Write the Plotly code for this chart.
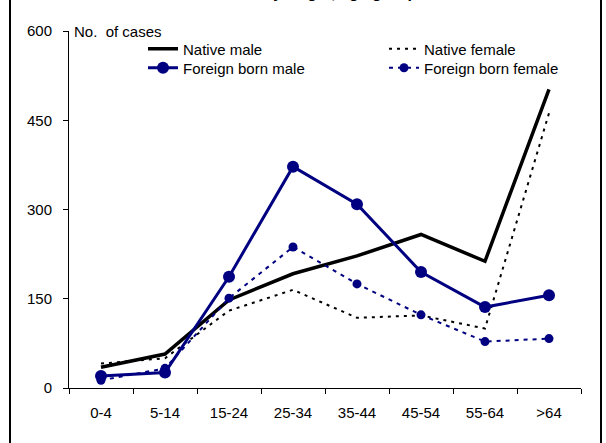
import plotly.graph_objects as go

age_groups = ["0-4", "5-14", "15-24", "25-34", "35-44", "45-54", "55-64", ">64"]
native_male = [35, 57, 148, 192, 222, 258, 213, 502]
native_female = [41, 50, 130, 165, 118, 122, 100, 462]
foreign_male = [20, 26, 187, 372, 309, 195, 136, 156]
foreign_female = [13, 33, 151, 237, 175, 123, 78, 83]
y_ticks = [0, 150, 300, 450, 600]

NAVY = "#000080"
FONT = "Liberation Sans, Arial, sans-serif"

L, R, T, B = 69, 25, 31, 55
W, H = 606, 443
pw, ph = W - L - R, H - T - B

def px(x):
    return (x - L) / pw

def py(y):
    return (H - B - y) / ph

fig = go.Figure()
fig.add_trace(go.Scatter(x=age_groups, y=native_male, name="Native male", mode="lines",
                         line=dict(color="black", width=3.5), legend="legend"))
fig.add_trace(go.Scatter(x=age_groups, y=native_female, name="Native female", mode="lines",
                         line=dict(color="black", width=2, dash="3px,5px"), legend="legend2"))
fig.add_trace(go.Scatter(x=age_groups, y=foreign_male, name="Foreign born male", mode="lines+markers",
                         line=dict(color=NAVY, width=3), marker=dict(size=12, color=NAVY),
                         legend="legend3"))
fig.add_trace(go.Scatter(x=age_groups, y=foreign_female, name="Foreign born female", mode="lines+markers",
                         line=dict(color=NAVY, width=2, dash="4px,5px"), marker=dict(size=9, color=NAVY),
                         legend="legend4"))

legend_common = dict(font=dict(family=FONT, size=15, color="black"), bgcolor="rgba(0,0,0,0)",
                     orientation="v", xanchor="left", yanchor="middle", tracegroupgap=0,
                     itemclick=False, borderwidth=0)

fig.update_layout(
    width=W, height=H,
    margin=dict(l=L, r=R, t=T, b=B, pad=0),
    paper_bgcolor="white", plot_bgcolor="white",
    font=dict(family=FONT, size=15, color="black"),
    showlegend=True,
    legend=dict(x=px(143), y=py(49), **legend_common),
    legend2=dict(x=px(384), y=py(49), **legend_common),
    legend3=dict(x=px(143), y=py(68), **legend_common),
    legend4=dict(x=px(384), y=py(68), **legend_common),
    xaxis=dict(type="category", range=[-0.5, 7.5], showgrid=False, zeroline=False,
               showline=True, linecolor="black", linewidth=1,
               ticks="outside", ticklen=5, tickcolor="black", tickwidth=1,
               tickson="boundaries", ticklabelstandoff=11,
               tickfont=dict(family=FONT, size=15, color="black")),
    yaxis=dict(range=[0, 600], tickvals=y_ticks, showgrid=False, zeroline=False,
               showline=True, linecolor="black", linewidth=1,
               ticks="outside", ticklen=5, tickcolor="black", tickwidth=1,
               ticklabelstandoff=8,
               tickfont=dict(family=FONT, size=15, color="black")),
    annotations=[
        dict(text="No.  of cases", xref="paper", yref="paper", x=0, y=1, xshift=3,
             xanchor="left", yanchor="middle", showarrow=False,
             font=dict(family=FONT, size=15, color="black")),
        dict(text="Cases by origin, age group", xref="paper", yref="paper", x=px(420), y=1,
             xanchor="right", yanchor="bottom", yshift=28, showarrow=False,
             font=dict(family=FONT, size=16, color="black", weight="bold")),
    ],
    shapes=[
        dict(type="line", xref="paper", yref="paper", x0=px(10), x1=px(10), y0=py(-5), y1=py(450),
             line=dict(color="black", width=2)),
        dict(type="line", xref="paper", yref="paper", x0=px(601), x1=px(601), y0=py(-5), y1=py(450),
             line=dict(color="black", width=2)),
    ],
)

fig.write_html("out.html", config={"displayModeBar": False},
               post_script="document.body.style.margin='0';")
